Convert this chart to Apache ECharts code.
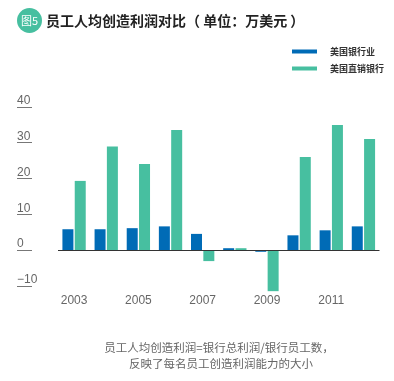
<!DOCTYPE html>
<html><head><meta charset="utf-8">
<script src="https://cdn.jsdelivr.net/npm/echarts@6/dist/echarts.min.js"></script>
<style>html,body{margin:0;padding:0;background:#fff}#c{width:394px;height:381px}</style>
</head><body><div id="c"></div>
<script>
const years = ['2003','2004','2005','2006','2007','2008','2009','2010','2011','2012'];
const seriesNames = ['美国银行业','美国直销银行'];
const bankIndustry = [5.8, 5.8, 6.1, 6.6, 4.5, 0.5, -0.5, 4.1, 5.5, 6.6];
const directBanks = [19.3, 28.9, 24.0, 33.5, -3.1, 0.5, -11.5, 26.0, 34.9, 31.0];
const yTicks = { min: -10, max: 40, interval: 10 };
const titleText = '员工人均创造利润对比（ 单位：万美元 ）';
const badgeText = '图5';
const noteLines = ['员工人均创造利润=银行总利润/银行员工数，', '反映了每名员工创造利润能力的大小'];

const BLUE = '#006BB6', GREEN = '#47BFA0';
const FONT = '"Noto Sans CJK SC","Noto Sans",sans-serif';
const chart = echarts.init(document.getElementById('c'));
chart.setOption({
  animation: false,
  textStyle: { fontFamily: FONT },
  grid: { left: 58, right: 14.5, top: 106.8, bottom: 95.2 },
  legend: {
    orient: 'vertical', left: 287, top: 42, itemWidth: 25, itemHeight: 4, itemGap: 8,
    icon: 'rect',
    textStyle: { fontSize: 9, fontWeight: 'bold', color: '#333', padding: [0, 0, 0, 8] },
    data: seriesNames
  },
  xAxis: {
    type: 'category', data: years,
    axisLine: { show: false, onZero: false }, axisTick: { show: false },
    axisLabel: { interval: 1, margin: 9, fontSize: 12, color: '#666', fontFamily: '"Liberation Sans",sans-serif' }
  },
  yAxis: {
    type: 'value', min: yTicks.min, max: yTicks.max, interval: yTicks.interval,
    offset: 26,
    axisLine: { show: false },
    axisTick: { show: true, length: 15, lineStyle: { color: '#777', width: 1 } },
    splitLine: { show: false },
    axisLabel: {
      margin: 15, align: 'left', verticalAlign: 'bottom', fontSize: 12, color: '#666',
      fontFamily: '"Liberation Sans",sans-serif',
      formatter: v => v < 0 ? '\u2212' + Math.abs(v) : String(v)
    }
  },
  graphic: [
    { type: 'circle', shape: { cx: 29.5, cy: 20.5, r: 12.5 }, style: { fill: GREEN } },
    { type: 'text', x: 29.5, y: 20.5, style: { text: badgeText, fill: '#fff', fontSize: 11, fontFamily: FONT, align: 'center', verticalAlign: 'middle' } },
    { type: 'text', x: 46, y: 20.5, style: { text: titleText, fill: '#222', fontSize: 14, fontWeight: 'bold', fontFamily: FONT, align: 'left', verticalAlign: 'middle' } },
    { type: 'text', x: 219, y: 348, style: { text: noteLines[0], fill: '#666', fontSize: 11.5, fontFamily: FONT, align: 'center', verticalAlign: 'middle' } },
    { type: 'text', x: 221, y: 364, style: { text: noteLines[1], fill: '#666', fontSize: 11.5, fontFamily: FONT, align: 'center', verticalAlign: 'middle' } }
  ],
  series: [
    {
      name: seriesNames[0], type: 'bar', data: bankIndustry, barWidth: 11, barGap: '12%',
      clip: false, itemStyle: { color: BLUE },
      markLine: {
        silent: true, symbol: 'none', label: { show: false },
        lineStyle: { color: '#333', width: 1, type: 'solid' },
        data: [{ yAxis: 0 }]
      }
    },
    {
      name: seriesNames[1], type: 'bar', data: directBanks, barWidth: 11, barGap: '12%',
      clip: false, itemStyle: { color: GREEN }
    }
  ]
});
</script></body></html>
